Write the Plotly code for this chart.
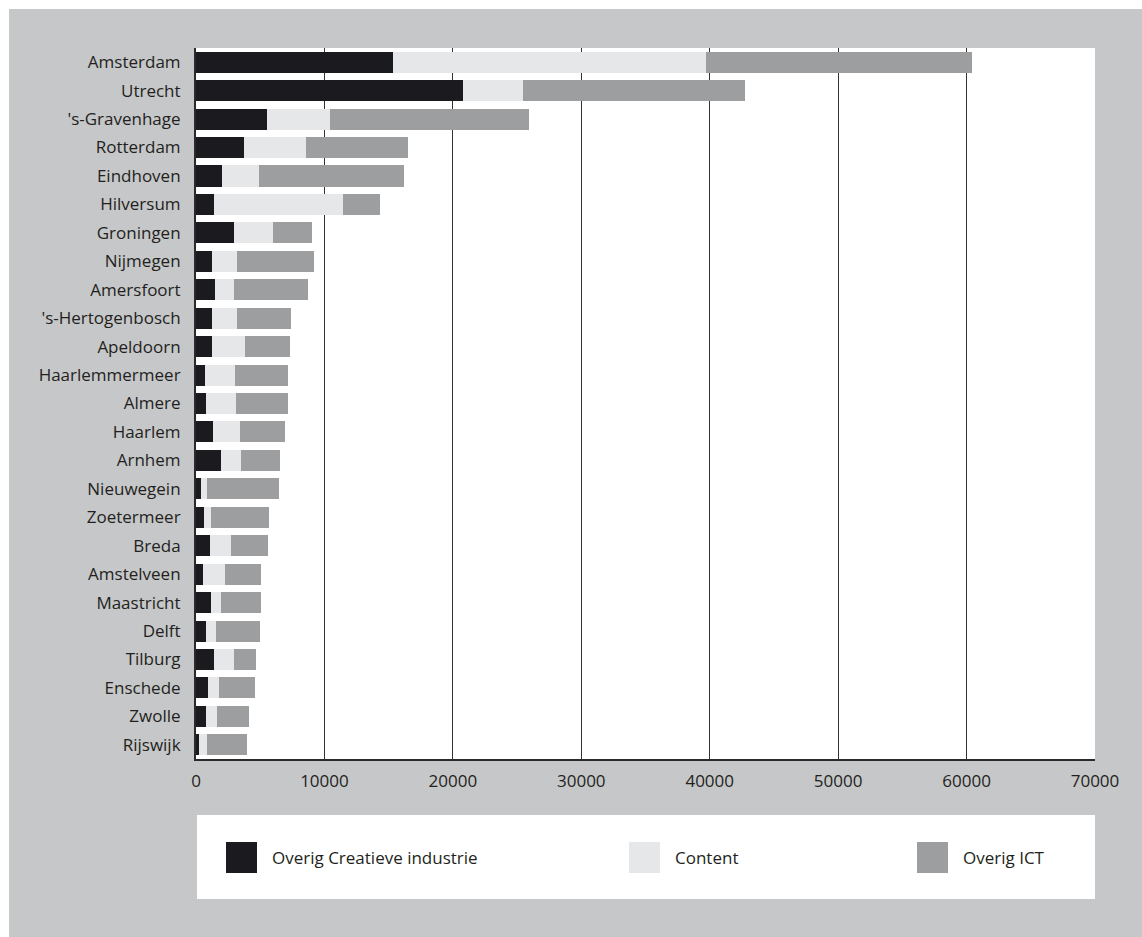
import plotly.graph_objects as go

cities = ["Amsterdam", "Utrecht", "'s-Gravenhage", "Rotterdam", "Eindhoven", "Hilversum",
          "Groningen", "Nijmegen", "Amersfoort", "'s-Hertogenbosch", "Apeldoorn",
          "Haarlemmermeer", "Almere", "Haarlem", "Arnhem", "Nieuwegein", "Zoetermeer",
          "Breda", "Amstelveen", "Maastricht", "Delft", "Tilburg", "Enschede", "Zwolle", "Rijswijk"]
overig_creatief = [15330, 20800, 5520, 3730, 2010, 1390, 2950, 1230, 1470, 1230, 1230, 690, 760,
                   1310, 1930, 370, 600, 1080, 530, 1160, 760, 1390, 920, 760, 220]
content = [24400, 4670, 4910, 4830, 2890, 10050, 3040, 1950, 1480, 1950, 2570, 2330, 2340,
           2100, 1560, 470, 550, 1630, 1720, 770, 780, 1560, 860, 860, 620]
overig_ict = [20730, 17300, 15510, 7950, 11300, 2890, 3040, 6010, 5770, 4210, 3510, 4140, 4060,
              3510, 3040, 5610, 4520, 2890, 2820, 3140, 3430, 1710, 2800, 2490, 3120]
series_names = ["Overig Creatieve industrie", "Content", "Overig ICT"]
series_colors = ["#1b1a1e", "#e6e7e9", "#9d9ea0"]
x_ticks = [0, 10000, 20000, 30000, 40000, 50000, 60000, 70000]

W, H = 1142, 937
L, R, T, B = 196, 1095, 48, 759
BG = "#c6c7c9"
TXT = "#231f20"
FONT = "Open Sans"

def px(x):
    return (x - L) / (R - L)

def py(y):
    return (B - y) / (B - T)

fig = go.Figure()
for name, vals, col in zip(series_names, [overig_creatief, content, overig_ict], series_colors):
    fig.add_trace(go.Bar(y=cities, x=vals, name=name, orientation="h",
                         marker=dict(color=col, line=dict(width=0)), showlegend=False))

shapes = []
# white strips at top/left edge of the picture
shapes.append(dict(type="rect", xref="paper", yref="paper", x0=px(-5), x1=px(W + 5),
                   y0=py(9), y1=py(-5), fillcolor="white", line=dict(width=0), layer="below"))
shapes.append(dict(type="rect", xref="paper", yref="paper", x0=px(-5), x1=px(9),
                   y0=py(H + 5), y1=py(-5), fillcolor="white", line=dict(width=0), layer="below"))
# legend box
shapes.append(dict(type="rect", xref="paper", yref="paper", x0=px(197), x1=px(1095),
                   y0=py(899), y1=py(815), fillcolor="white", line=dict(width=0)))
annotations = []
sw_x = [226, 629, 917]
for xs, name, col in zip(sw_x, series_names, series_colors):
    shapes.append(dict(type="rect", xref="paper", yref="paper", x0=px(xs), x1=px(xs + 31),
                       y0=py(873), y1=py(842), fillcolor=col, line=dict(width=0)))
    annotations.append(dict(xref="paper", yref="paper", x=px(xs + 44), y=py(857.5),
                            text=name, showarrow=False, xanchor="left", yanchor="middle",
                            font=dict(family=FONT, size=17, color=TXT)))

fig.update_layout(
    barmode="stack",
    bargap=0.26,
    width=W, height=H,
    margin=dict(l=L, r=W - R, t=T, b=H - B, pad=0),
    paper_bgcolor=BG,
    plot_bgcolor="white",
    font=dict(family=FONT, size=17, color=TXT),
    shapes=shapes,
    annotations=annotations,
    hovermode=False,
    xaxis=dict(range=[0, 70000], tickvals=x_ticks, ticktext=[str(v) for v in x_ticks],
               showgrid=True, gridcolor="#333333", gridwidth=1,
               showline=True, linecolor="#2a2a2a", linewidth=2, zeroline=False,
               ticks="", ticklabelstandoff=6, tickfont=dict(size=17, color=TXT)),
    yaxis=dict(categoryorder="array", categoryarray=cities, autorange="reversed",
               showgrid=False, showline=True, linecolor="#2a2a2a", linewidth=2,
               ticks="", ticklabelstandoff=10, tickfont=dict(size=17, color=TXT)),
)

fig.write_html("out.html", config={"displayModeBar": False},
               post_script="document.body.style.margin='0';document.body.style.overflow='hidden';")
